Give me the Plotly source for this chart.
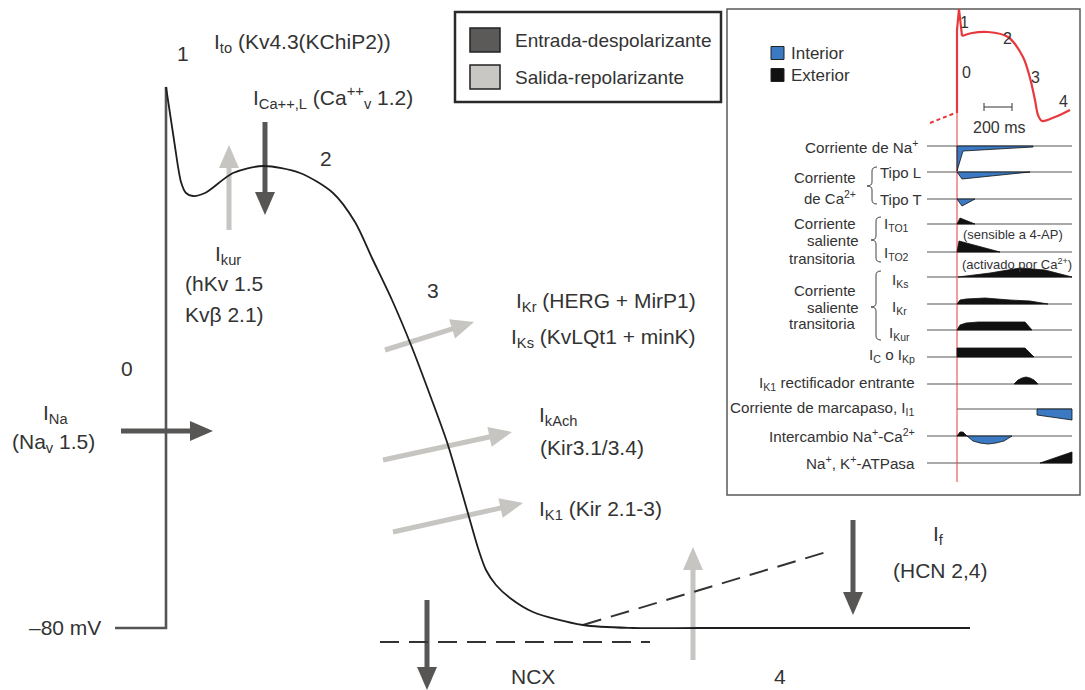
import plotly.graph_objects as go

W, H = 1085, 690

# ---------------- main action potential (pixel space of the drawing) ----------------
AP_UP_X = [115, 166, 166]
AP_UP_Y = [628, 628, 87]
AP_X = [166, 174, 181, 186, 193, 205, 233, 263, 300, 333, 355, 372, 392, 411, 430, 447, 467, 478, 486, 496, 510, 533, 583, 633, 700, 970]
AP_Y = [87, 140, 182, 193, 196, 193, 173, 166, 173, 193, 222, 258, 300, 345, 395, 442, 510, 548, 570, 585, 598, 612, 625, 628, 628, 628]

# arrows: start -> tip, kind
ARR_X0 = [121, 265, 427, 853, 229, 385, 383, 393, 693]
ARR_Y0 = [431, 122, 600, 520, 230, 350, 460, 532, 660]
ARR_X1 = [213, 265, 427, 853, 229, 474, 512, 523, 693]
ARR_Y1 = [431, 215, 690, 615, 145, 322, 432, 503, 547]
ARR_KIND = ["dark", "dark", "dark", "dark", "light", "light", "light", "light", "light"]

# dashed lines
DASH_X0 = [380, 583]
DASH_Y0 = [642, 625]
DASH_X1 = [650, 833]
DASH_Y1 = [642, 550]

# main labels
LBL_TEXT = ["1", "I<sub>to</sub> (Kv4.3(KChiP2))", "I<sub>Ca++,L</sub> (Ca<sup>++</sup><sub>v</sub> 1.2)", "2",
            "I<sub>kur</sub>", "(hKv 1.5", "Kvβ 2.1)", "3",
            "I<sub>Kr</sub> (HERG + MirP1)", "I<sub>Ks</sub> (KvLQt1 + minK)",
            "I<sub>kAch</sub>", "(Kir3.1/3.4)", "I<sub>K1</sub> (Kir 2.1-3)",
            "0", "I<sub>Na</sub>", "(Na<sub>v</sub> 1.5)", "–80 mV", "NCX", "4",
            "I<sub>f</sub>", "(HCN 2,4)"]
LBL_X = [183, 212, 251, 326, 228, 224, 224, 433, 698, 698, 537, 538, 537, 127, 55, 53, 103, 533, 780, 938, 940]
LBL_Y = [53, 43, 97, 158, 255, 283, 314, 290, 302, 338, 416, 447, 510, 368, 414, 443, 627, 676, 676, 535, 570]
LBL_ANCHOR = ["center", "left", "left", "center", "center", "center", "center", "center", "right", "right",
              "left", "left", "left", "center", "center", "center", "right", "center", "center", "center", "center"]

# legend
LEG_TEXT = ["Entrada-despolarizante", "Salida-repolarizante"]
LEG_COLOR = ["#5b5a58", "#c9c7c3"]
LEG_Y = [40, 77]

# ---------------- inset ----------------
RED_UP_X = [957, 957, 959, 962]
RED_UP_Y = [113, 30, 9, 36]
RED_X = [962, 972, 988, 1008, 1023, 1030, 1035, 1038, 1042, 1055, 1070]
RED_Y = [36, 33, 32, 37, 57, 78, 100, 115, 121, 117, 110]
RED_NUM = ["1", "2", "3", "4", "0"]
RED_NUM_X = [964, 1007, 1035, 1063, 966]
RED_NUM_Y = [22, 38, 77, 101, 72]

ROW_Y = [146, 172, 199, 224, 252, 277, 304, 330, 357, 384, 409, 436, 463]
ROW_X0 = [927, 927, 927, 927, 927, 927, 927, 927, 927, 927, 957, 927, 927]

ROW_LABEL = ["Corriente de Na<sup>+</sup>", "I<sub>C</sub> o I<sub>Kp</sub>", "I<sub>K1</sub> rectificador entrante",
             "Corriente de marcapaso, I<sub>I1</sub>", "Intercambio Na<sup>+</sup>-Ca<sup>2+</sup>",
             "Na<sup>+</sup>, K<sup>+</sup>-ATPasa"]
ROW_LABEL_X = [920, 917, 917, 917, 917, 917]
ROW_LABEL_Y = [146, 355, 383, 408, 435, 462]

GROUP_TEXT = ["Corriente", "de Ca<sup>2+</sup>", "Corriente", "saliente", "transitoria",
              "Corriente", "saliente", "transitoria"]
GROUP_X = [858, 858, 858, 861, 858, 858, 861, 858]
GROUP_Y = [177, 197, 223, 240, 258, 290, 307, 323]

SUB_TEXT = ["Tipo L", "Tipo T", "I<sub>TO1</sub>", "I<sub>TO2</sub>", "I<sub>Ks</sub>", "I<sub>Kr</sub>", "I<sub>Kur</sub>"]
SUB_X = [878, 878, 882, 882, 890, 890, 887]
SUB_Y = [172, 199, 224, 253, 280, 307, 333]

BRACE_X = [872, 876, 876]
BRACE_Y0 = [167, 217, 271]
BRACE_Y1 = [204, 262, 340]
BRACE_TIP_Y = [186, 240, 307]

NOTE_TEXT = ["(sensible a 4-AP)", "(activado por Ca<sup>2+</sup>)"]
NOTE_X = [961, 960]
NOTE_Y = [234, 264]

# current waveforms (polygon outlines)
NA_X = [957, 957, 963, 1033, 1033]
NA_Y = [146, 171, 151, 147, 146]
CAL_X = [957, 962, 1030]
CAL_Y = [172, 179, 172]
CAT_X = [957, 962, 975]
CAT_Y = [199, 206, 199]
TO1_X = [957, 960, 975]
TO1_Y = [224, 218, 224]
TO2_X = [957, 959, 1000]
TO2_Y = [252, 241, 252]
KS_X = [958, 990, 1020, 1045, 1072]
KS_Y = [277, 273, 268, 270, 277]
KR_X = [957, 960, 966, 985, 1010, 1030, 1048]
KR_Y = [304, 300, 299, 298, 300, 301, 304]
KUR_X = [957, 960, 966, 978, 1025, 1032]
KUR_Y = [330, 325, 323, 322, 322, 330]
CKP_X = [957, 957, 1025, 1034]
CKP_Y = [357, 348, 348, 357]
K1_X = [1014, 1018, 1022, 1026, 1030, 1034, 1038]
K1_Y = [384, 380, 378, 377, 378, 380, 384]
MARC_X = [1037, 1072, 1072, 1037]
MARC_Y = [409, 409, 420, 415]
NCXB_X = [957, 960, 963, 967]
NCXB_Y = [436, 432, 432, 436]
NCXL_X = [967, 973, 980, 988, 996, 1004, 1012]
NCXL_Y = [436, 441, 443, 444, 443, 441, 436]
ATP_X = [1040, 1072, 1072]
ATP_Y = [463, 452, 463]

MAIN_FONT = "Liberation Sans, Arial, sans-serif"
INSET_FONT = "Liberation Sans, Arial, sans-serif"
TXT = "#333333"
DARK = "#575655"
LIGHT = "#c6c5c1"
BLUE = "#3b79c2"
RED = "#e8383d"

fig = go.Figure()
shapes = []
ann = []

# ----- arrows -----
for x0, y0, x1, y1, k in zip(ARR_X0, ARR_Y0, ARR_X1, ARR_Y1, ARR_KIND):
    col = DARK if k == "dark" else LIGHT
    dx, dy = x1 - x0, y1 - y0
    ln = (dx * dx + dy * dy) ** 0.5
    ux, uy = dx / ln, dy / ln
    hl, hw = 23, 10
    bx, by = x1 - ux * hl, y1 - uy * hl
    px, py = -uy * hw, ux * hw
    shapes.append(dict(type="line", x0=x0, y0=y0, x1=bx + ux * 2, y1=by + uy * 2,
                       line=dict(color=col, width=5), layer="below"))
    shapes.append(dict(type="path", path=f"M {x1},{y1} L {bx+px},{by+py} L {bx-px},{by-py} Z",
                       fillcolor=col, line=dict(width=0), layer="below"))

# dashed lines
for x0, y0, x1, y1 in zip(DASH_X0, DASH_Y0, DASH_X1, DASH_Y1):
    shapes.append(dict(type="line", x0=x0, y0=y0, x1=x1, y1=y1,
                       line=dict(color="#333", width=2, dash="19px,10px"), layer="below"))

# AP curve
fig.add_trace(go.Scatter(x=AP_UP_X, y=AP_UP_Y, mode="lines", line=dict(color="#555", width=2.6),
                         hoverinfo="skip"))
fig.add_trace(go.Scatter(x=AP_X, y=AP_Y, mode="lines", line=dict(color="#1e1e1e", width=1.8, shape="spline",
                                                                 smoothing=0.8), hoverinfo="skip"))

# main labels
for t, x, y, a in zip(LBL_TEXT, LBL_X, LBL_Y, LBL_ANCHOR):
    ann.append(dict(x=x, y=y, text=t, showarrow=False, xanchor=a, yanchor="middle",
                    font=dict(family=MAIN_FONT, size=21, color=TXT)))

# legend box
shapes.append(dict(type="rect", x0=455, y0=12, x1=721, y1=102, line=dict(color="#2a2a2a", width=2.5),
                   fillcolor="white"))
for t, c, y in zip(LEG_TEXT, LEG_COLOR, LEG_Y):
    shapes.append(dict(type="rect", x0=470, y0=y - 12, x1=500, y1=y + 12, fillcolor=c,
                       line=dict(color="#222", width=1.5)))
    ann.append(dict(x=513, y=y, text=t, showarrow=False, xanchor="left", yanchor="middle",
                    font=dict(family=MAIN_FONT, size=19, color=TXT)))

# ----- inset -----
shapes.append(dict(type="rect", x0=727, y0=9, x1=1080, y1=495, line=dict(color="#5a5a5a", width=1.5),
                   fillcolor="white", layer="below"))
for y, x0 in zip(ROW_Y, ROW_X0):
    shapes.append(dict(type="line", x0=x0, y0=y, x1=1072, y1=y, line=dict(color="#555", width=1),
                       layer="below"))
# red vertical marker
shapes.append(dict(type="line", x0=957, y0=113, x1=957, y1=482, line=dict(color=RED, width=1),
                   layer="below"))
fig.add_trace(go.Scatter(x=[930, 955], y=[123, 113], mode="lines",
                         line=dict(color=RED, width=2, dash="4px,3px"), hoverinfo="skip"))
fig.add_trace(go.Scatter(x=RED_UP_X, y=RED_UP_Y, mode="lines", line=dict(color=RED, width=2.2),
                         hoverinfo="skip"))
fig.add_trace(go.Scatter(x=RED_X, y=RED_Y, mode="lines", line=dict(color=RED, width=2.2, shape="spline",
                                                                   smoothing=0.9), hoverinfo="skip"))
for t, x, y in zip(RED_NUM, RED_NUM_X, RED_NUM_Y):
    ann.append(dict(x=x, y=y, text=t, showarrow=False, xanchor="center", yanchor="middle",
                    font=dict(family=INSET_FONT, size=16, color=TXT)))
# scale bar
shapes.append(dict(type="line", x0=984, y0=107, x1=1012, y1=107, line=dict(color="#333", width=1)))
shapes.append(dict(type="line", x0=984, y0=103, x1=984, y1=111, line=dict(color="#333", width=1)))
shapes.append(dict(type="line", x0=1012, y0=103, x1=1012, y1=111, line=dict(color="#333", width=1)))
ann.append(dict(x=999, y=127, text="200 ms", showarrow=False, font=dict(family=INSET_FONT, size=16, color=TXT)))

# inset legend
for c, t, y in zip([BLUE, "#111"], ["Interior", "Exterior"], [53, 75]):
    shapes.append(dict(type="rect", x0=771, y0=y - 6.5, x1=784, y1=y + 6.5, fillcolor=c,
                       line=dict(color="#222", width=1)))
    ann.append(dict(x=789, y=y, text=t, showarrow=False, xanchor="left", yanchor="middle",
                    font=dict(family=INSET_FONT, size=17, color=TXT)))

# current polygons
def poly(xs, ys, col):
    fig.add_trace(go.Scatter(x=xs + [xs[0]], y=ys + [ys[0]], mode="lines", fill="toself", fillcolor=col,
                             line=dict(color="#111", width=0.8), hoverinfo="skip"))

poly(NA_X, NA_Y, BLUE)
poly(CAL_X, CAL_Y, BLUE)
poly(CAT_X, CAT_Y, BLUE)
poly(TO1_X, TO1_Y, "#111")
poly(TO2_X, TO2_Y, "#111")
poly(KS_X, KS_Y, "#111")
poly(KR_X, KR_Y, "#111")
poly(KUR_X, KUR_Y, "#111")
poly(CKP_X, CKP_Y, "#111")
poly(K1_X, K1_Y, "#111")
poly(MARC_X, MARC_Y, BLUE)
poly(NCXB_X, NCXB_Y, "#111")
poly(NCXL_X, NCXL_Y, BLUE)
poly(ATP_X, ATP_Y, "#111")

# inset labels
for t, x, y in zip(ROW_LABEL, ROW_LABEL_X, ROW_LABEL_Y):
    ann.append(dict(x=x, y=y, text=t, showarrow=False, xanchor="right", yanchor="middle",
                    font=dict(family=INSET_FONT, size=15.2, color=TXT)))
for t, x, y in zip(GROUP_TEXT, GROUP_X, GROUP_Y):
    ann.append(dict(x=x, y=y, text=t, showarrow=False, xanchor="right", yanchor="middle",
                    font=dict(family=INSET_FONT, size=15, color=TXT)))
for t, x, y in zip(SUB_TEXT, SUB_X, SUB_Y):
    ann.append(dict(x=x, y=y, text=t, showarrow=False, xanchor="left", yanchor="middle",
                    font=dict(family=INSET_FONT, size=15, color=TXT)))
for t, x, y in zip(NOTE_TEXT, NOTE_X, NOTE_Y):
    ann.append(dict(x=x, y=y, text=t, showarrow=False, xanchor="left", yanchor="middle",
                    font=dict(family=INSET_FONT, size=13, color=TXT)))

# braces
for x, y0, y1, ym in zip(BRACE_X, BRACE_Y0, BRACE_Y1, BRACE_TIP_Y):
    w = 5
    r = 4
    p = (f"M {x+w},{y0} Q {x},{y0} {x},{y0+r} L {x},{ym-r} Q {x},{ym} {x-w},{ym} "
         f"Q {x},{ym} {x},{ym+r} L {x},{y1-r} Q {x},{y1} {x+w},{y1}")
    shapes.append(dict(type="path", path=p, line=dict(color="#444", width=1)))

fig.update_layout(
    width=W, height=H, autosize=False,
    margin=dict(l=0, r=0, t=0, b=0, pad=0),
    paper_bgcolor="white", plot_bgcolor="white",
    showlegend=False,
    xaxis=dict(range=[0, W], visible=False, fixedrange=True),
    yaxis=dict(range=[H, 0], visible=False, fixedrange=True),
    shapes=shapes, annotations=ann,
)

fig.write_html("out.html", config={"displayModeBar": False, "staticPlot": True},
               post_script="document.body.style.margin='0';document.body.style.overflow='hidden';")
